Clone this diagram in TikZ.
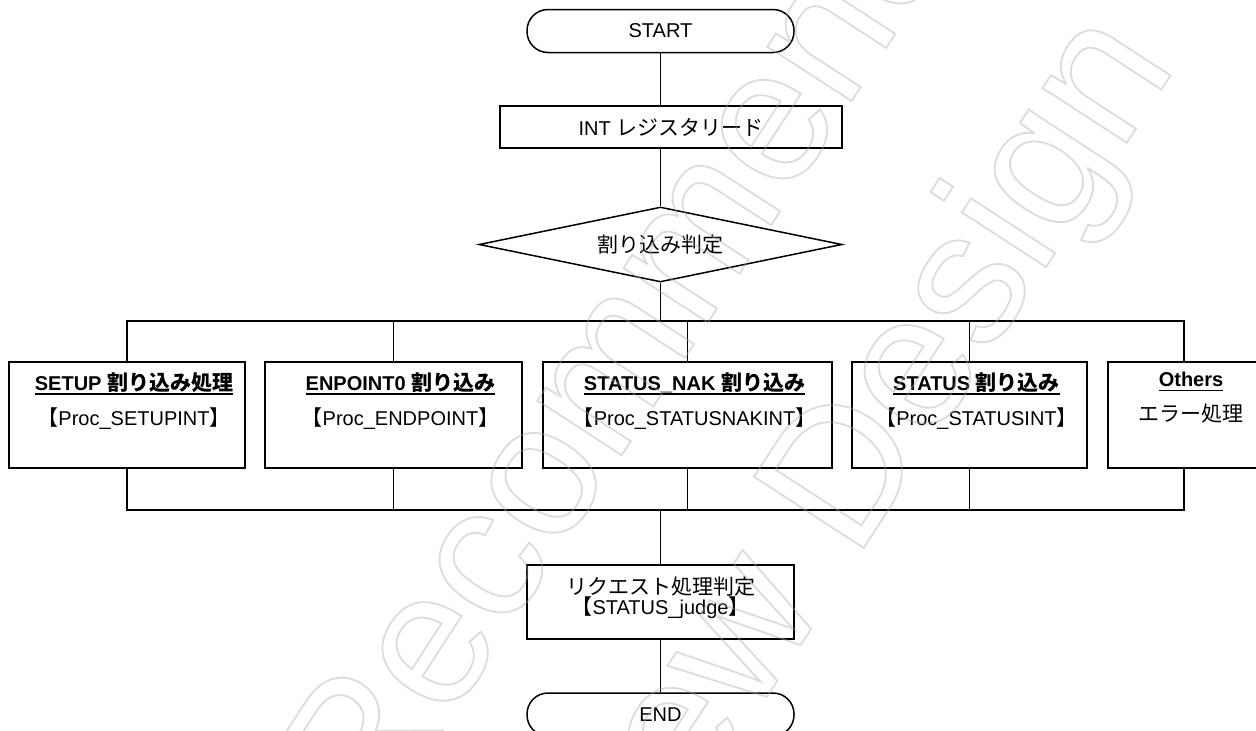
\documentclass[tikz,border=0pt]{standalone}
\usepackage{fontspec}
\setmainfont{Liberation Sans}
\newfontfamily\jp[Scale=1.05]{Noto Sans CJK JP}
\usepackage{xcolor}
\usepackage{tikz}
\usetikzlibrary{positioning,shapes.geometric}
\definecolor{cwm}{HTML}{A8A8A8}
\newcommand{\ulbar}[1]{\setbox0\hbox{#1}\leavevmode\rlap{\rule[-4.5pt]{\wd0}{1.8pt}}\box0}

\tikzset{
  wire/.style={line width=1.5pt},
  termbox/.style={draw, line width=1.5pt, rounded corners=21pt, minimum width=267pt, minimum height=43pt, inner sep=0pt},
  procbox/.style={draw, line width=1.5pt, inner sep=0pt},
  casebox/.style={procbox, minimum width=#1, minimum height=106pt},
  decidebox/.style={draw, diamond, aspect=4.84, line width=1.5pt, minimum width=363pt, minimum height=75pt, inner sep=0pt},
  boxtext/.style={anchor=north, align=center, inner sep=0pt, xshift=7pt, yshift=-11pt,
    font=\fontsize{20}{35}\selectfont, execute at begin node={\vphantom{\jp 割}}},
  wmark/.style={anchor=base west, inner sep=0pt, text=cwm, font=\fontsize{190}{190}\selectfont,
    execute at begin node={\special{pdf:literal direct 1 Tr 1.8 w}}}
}

\begin{document}
\begin{tikzpicture}[x=1pt, y=-1pt, font=\fontsize{20}{24}\selectfont]
    \useasboundingbox (0,0) rectangle (1256,731);
    \fill[white] (0,0) rectangle (1256,731);

    \node[termbox] (start) at (660.5,31) {START};
    \node[procbox, minimum width=342pt, minimum height=42pt] (intread) at (671,127) {INT {\jp レジスタリード}};
    \node[decidebox] (judgeint) at (660.5,244.5) {{\jp 割り込み判定}};

    \node[casebox=236pt] (setup) at (127,415) {};
    \node[casebox=257pt] (endpt) at (393.5,415) {};
    \node[casebox=289pt] (naksts) at (687.5,415) {};
    \node[casebox=235pt] (sts) at (969.5,415) {};
    \node[casebox=152pt] (others) at (1184,415) {};

    \node[boxtext] (setuptxt) at (setup.north) {\ulbar{\bfseries SETUP {\jp 割り込み処理}}\\{\jp 【}Proc\_SETUPINT{\jp 】}};
    \node[boxtext] (endpttxt) at (endpt.north) {\ulbar{\bfseries ENPOINT0 {\jp 割り込み}}\\{\jp 【}Proc\_ENDPOINT{\jp 】}};
    \node[boxtext] (nakststxt) at (naksts.north) {\ulbar{\bfseries STATUS\_NAK {\jp 割り込み}}\\{\jp 【}Proc\_STATUSNAKINT{\jp 】}};
    \node[boxtext] (ststxt) at (sts.north) {\ulbar{\bfseries STATUS {\jp 割り込み}}\\{\jp 【}Proc\_STATUSINT{\jp 】}};
    \node[boxtext] (otherstxt) at (others.north) {\ulbar{\bfseries Others}\\{\jp エラー処理}};

    \node[procbox, minimum width=267pt, minimum height=74pt] (reqjudge) at (660.5,602) {};
    \node[align=center, inner sep=0pt, yshift=4pt, font=\fontsize{20}{20}\selectfont] (reqtxt) at (reqjudge.center) {{\jp リクエスト処理判定}\\{\jp 【}STATUS\_judge{\jp 】}};
    \node[termbox] (finish) at (660.5,714.5) {END};

    % flow
    \draw[wire] (start.south) -- (start.south |- intread.north);
    \draw[wire] (intread.south -| start.south) -- (judgeint.north);
    \coordinate (fork) at (660.5,321);
    \draw[wire] (judgeint.south) -- (fork);
    \draw[wire] (setup.north) |- (fork) -| (others.north);
    \foreach \b in {endpt,naksts,sts}
      \draw[wire] (\b.north) -- (\b.north |- fork);
    \coordinate (merge) at (660.5,510);
    \draw[wire] (setup.south) |- (merge) -| (others.south);
    \foreach \b in {endpt,naksts,sts}
      \draw[wire] (\b.south) -- (\b.south |- merge);
    \draw[wire] (merge) -- (reqjudge.north);
    \draw[wire] (reqjudge.south) -- (finish.north);

    % watermark
    \begin{scope}[opacity=0.4]
      \clip (0,0) rectangle (1256,731);
      \node[wmark, rotate=57] (wmone) at (372.9,838.3) {Recommended};
      \node[wmark, rotate=57] (wmtwo) at (619.4,924.0) {New Design};
    \end{scope}
  \end{tikzpicture}
\end{document}
